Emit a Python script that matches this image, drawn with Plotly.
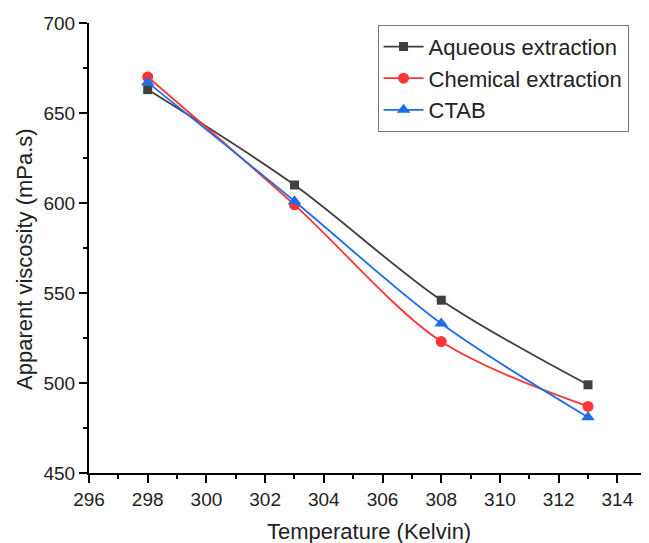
import plotly.graph_objects as go

temperature = [298, 303, 308, 313]
aqueous = [663, 610, 546, 499]
chemical = [670, 599, 523, 487]
ctab = [667, 601, 533, 481]

x_ticks = [296, 298, 300, 302, 304, 306, 308, 310, 312, 314]
y_ticks = [450, 500, 550, 600, 650, 700]

x_title = "Temperature (Kelvin)"
y_title = "Apparent viscosity (mPa.s)"

FONT = "Liberation Sans, Arial, sans-serif"

fig = go.Figure()
series = [
    ("Aqueous extraction", aqueous, "#3f3f3f", "square", 9),
    ("Chemical extraction", chemical, "#ff3535", "circle", 11),
    ("CTAB", ctab, "#1f6ee8", "triangle-up", 12),
]
for name, vals, color, sym, size in series:
    fig.add_trace(go.Scatter(
        x=temperature, y=vals, name=name, mode="lines+markers",
        line=dict(color=color, width=1.8, shape="spline", smoothing=0.9),
        marker=dict(symbol=sym, size=size, color=color),
    ))

axis_common = dict(
    showline=True, linecolor="black", linewidth=2,
    ticks="outside", ticklen=8, tickwidth=2, tickcolor="black",
    showgrid=False, zeroline=False, automargin=False,
    tickfont=dict(family=FONT, size=19, color="#222"),
    mirror=False,
)
fig.update_xaxes(
    range=[296, 315.35], tickvals=x_ticks,
    minor=dict(ticks="outside", ticklen=4, tickwidth=2, tickcolor="black", dtick=1, tick0=296),
    **axis_common,
)
fig.update_yaxes(
    range=[450, 700], tickvals=y_ticks,
    minor=dict(ticks="outside", ticklen=4, tickwidth=2, tickcolor="black", dtick=25, tick0=450),
    **axis_common,
)
fig.add_annotation(
    text=x_title, xref="paper", yref="paper", x=0.493, y=-0.129,
    xanchor="center", yanchor="middle", showarrow=False,
    font=dict(family=FONT, size=22, color="#222"),
)
fig.add_annotation(
    text=y_title, xref="paper", yref="paper", x=-0.1127, y=0.4756,
    xanchor="center", yanchor="middle", showarrow=False, textangle=-90,
    font=dict(family=FONT, size=22, color="#222"),
)
fig.update_layout(
    width=649, height=543,
    margin=dict(l=81, r=0, t=15, b=78),
    paper_bgcolor="white", plot_bgcolor="white",
    showlegend=True,
    legend=dict(
        x=0.508, y=0.996, xanchor="left", yanchor="top",
        bordercolor="#777", borderwidth=1, bgcolor="white",
        font=dict(family=FONT, size=22, color="#222"),
        tracegroupgap=0, itemwidth=40,
    ),
)
fig.write_html("out.html")
